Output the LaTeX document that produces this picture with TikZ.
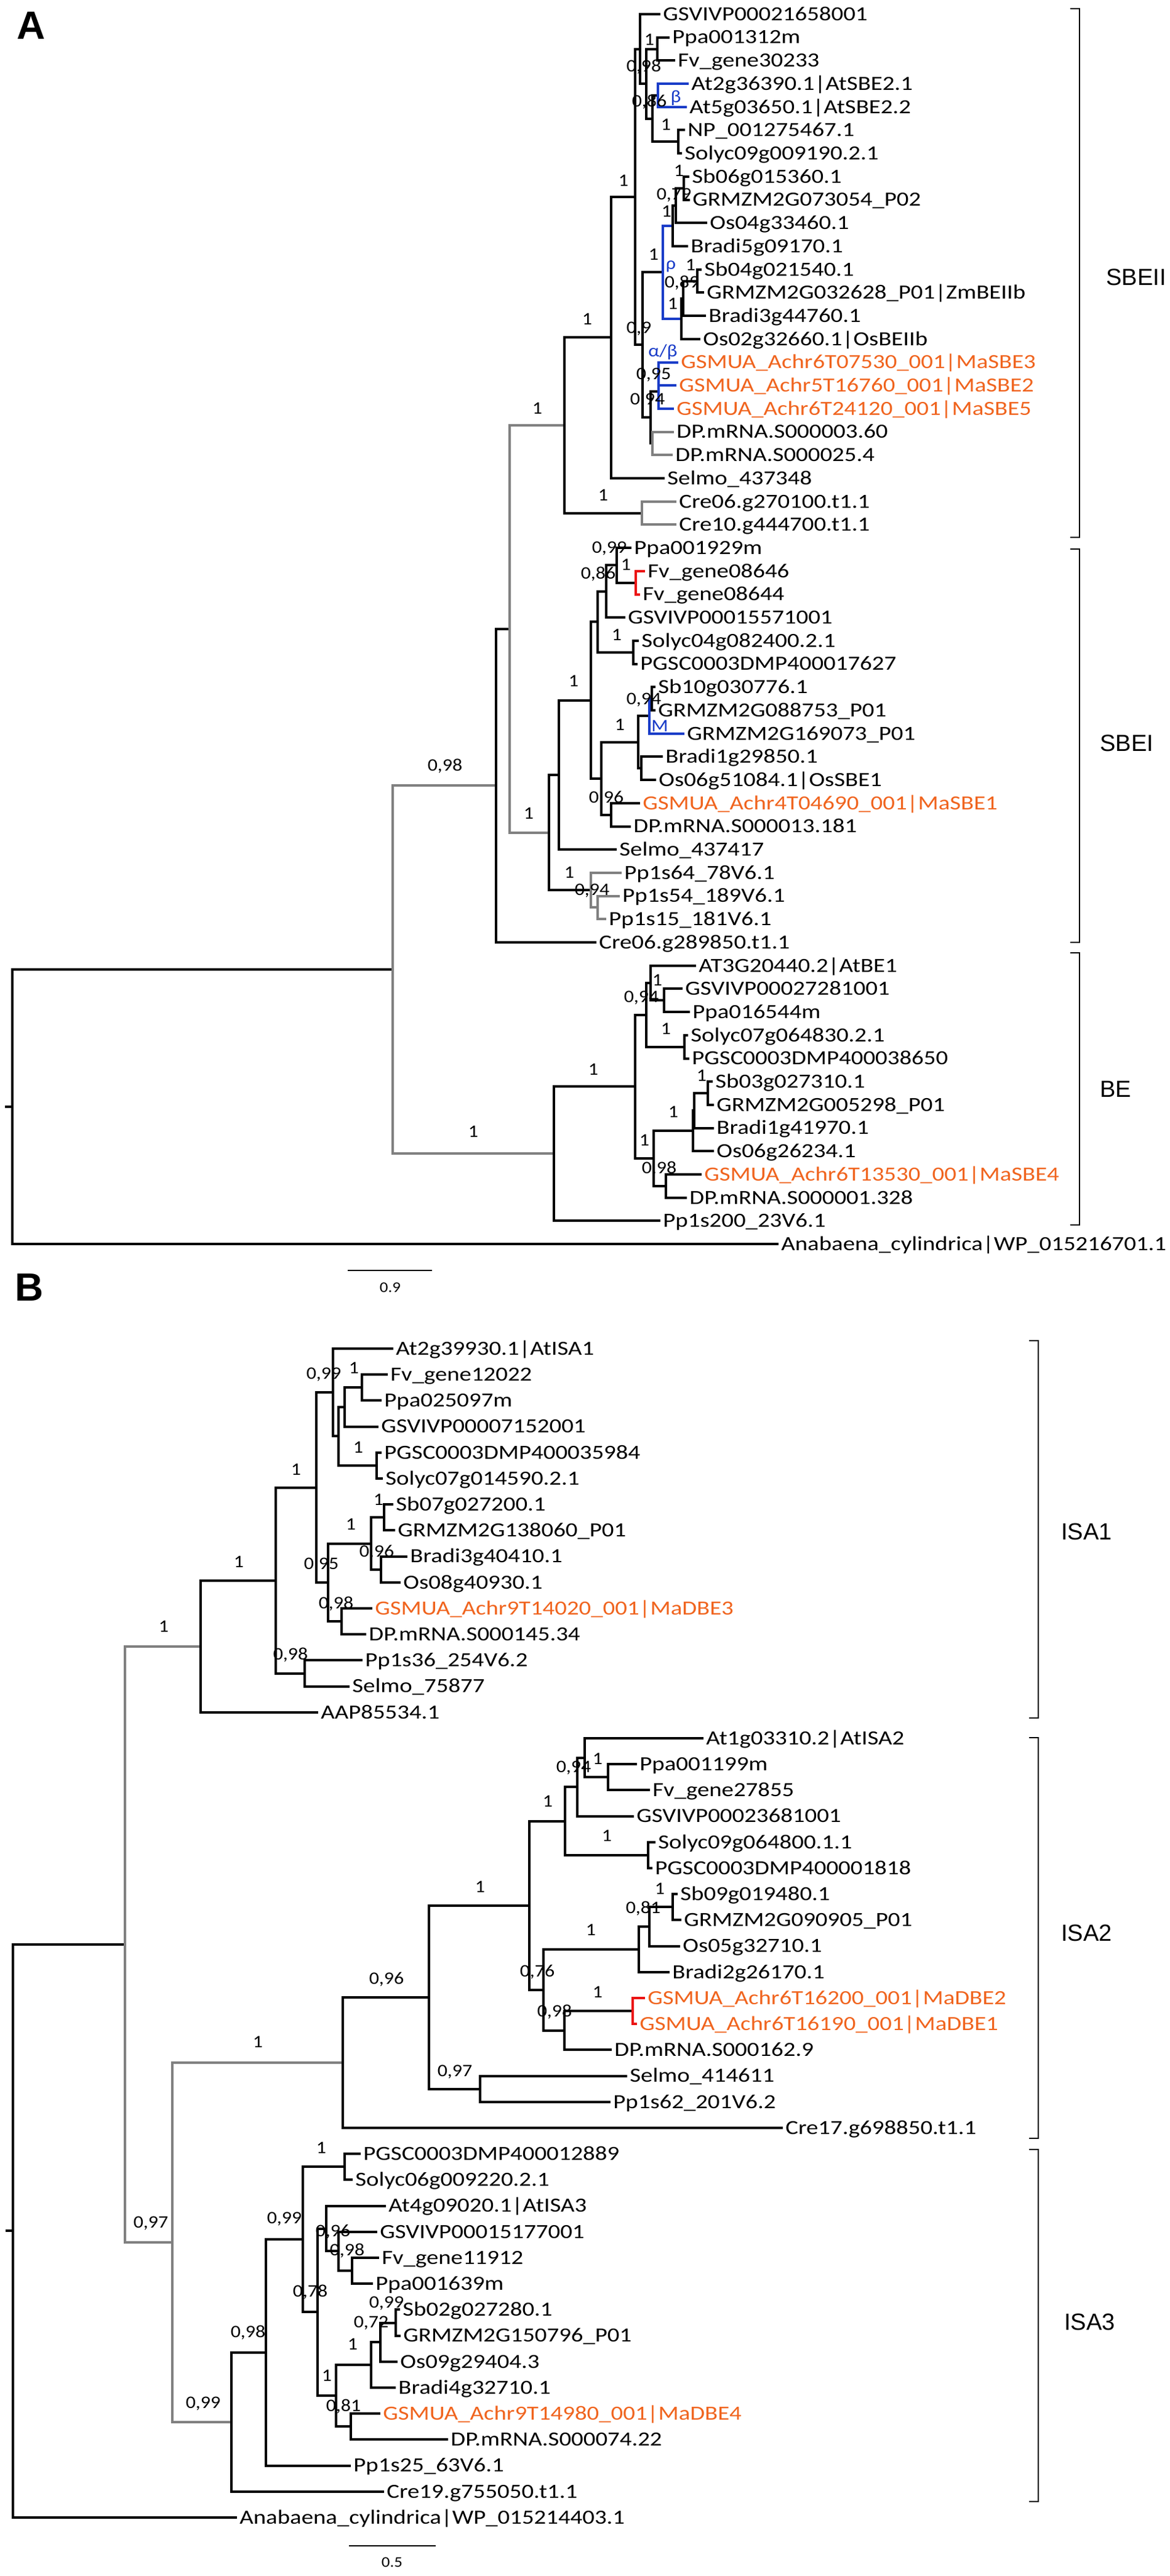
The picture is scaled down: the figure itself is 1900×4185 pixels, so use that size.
\documentclass[tikz,border=0pt]{standalone}
\usepackage{fontspec}
\newfontfamily\leaffont{Carlito}[FakeStretch=1.19]
\newfontfamily\supfont{Carlito}[FakeStretch=1.12]
\newfontfamily\cladefont{Liberation Sans}
\definecolor{musa}{RGB}{240,100,30}
\definecolor{cladeblue}{RGB}{25,60,200}
\definecolor{dupred}{RGB}{235,20,20}
\definecolor{branchgray}{RGB}{128,128,128}
\tikzset{
  br/.style={line width=2pt, line cap=rect, line join=miter, draw=black},
  gbr/.style={br, draw=branchgray},
  bbr/.style={br, draw=cladeblue},
  rbr/.style={br, draw=dupred},
  leaf/.style={anchor=west, inner sep=0pt, xshift=3pt, font=\leaffont\fontsize{16.3pt}{16.3pt}\selectfont, text height=10.3pt, text depth=0pt},
  mleaf/.style={leaf, text=musa},
  sup/.style={anchor=center, inner sep=0pt, font=\supfont\fontsize{14.25pt}{14.25pt}\selectfont, text height=9pt, text depth=0pt},
  bluelab/.style={sup, text=cladeblue},
  brk/.style={line width=1.3pt, line cap=rect},
  clade/.style={anchor=west, inner sep=0pt, font=\cladefont\fontsize{19pt}{19pt}\selectfont, text height=13.6pt, text depth=0pt},
  panel/.style={inner sep=0pt, font=\cladefont\bfseries\fontsize{32pt}{32pt}\selectfont},
  scaletxt/.style={inner sep=0pt, font=\supfont\fontsize{12pt}{12pt}\selectfont},
}
\newcommand\mkleaf[5][leaf]{\coordinate (#2) at (#3,#4); \node[#1] (l#2) at (#2) {#5};}
\newcommand\sv[4]{\node[sup] (#1) at (#2,#3) {#4};}
\begin{document}
\begin{tikzpicture}[x=0.5pt,y=-0.5pt]
\useasboundingbox (0,0) rectangle (1900,4185);

% ================= PANEL A =================
\begin{scope}[x=0.5pt,y=-18.85pt,yshift=-11.5pt]
\mkleaf{a0}{1071}{0}{GSVIVP00021658001}
\mkleaf{a1}{1086}{1}{Ppa001312m}
\mkleaf{a2}{1095}{2}{Fv\_gene30233}
\mkleaf{a3}{1117}{3}{At2g36390.1|AtSBE2.1}
\mkleaf{a4}{1114}{4}{At5g03650.1|AtSBE2.2}
\mkleaf{a5}{1111}{5}{NP\_001275467.1}
\mkleaf{a6}{1106}{6}{Solyc09g009190.2.1}
\mkleaf{a7}{1118}{7}{Sb06g015360.1}
\mkleaf{a8}{1119}{8}{GRMZM2G073054\_P02}
\mkleaf{a9}{1147}{9}{Os04g33460.1}
\mkleaf{a10}{1116}{10}{Bradi5g09170.1}
\mkleaf{a11}{1138}{11}{Sb04g021540.1}
\mkleaf{a12}{1142}{12}{GRMZM2G032628\_P01|ZmBEIIb}
\mkleaf{a13}{1145}{13}{Bradi3g44760.1}
\mkleaf{a14}{1136}{14}{Os02g32660.1|OsBEIIb}
\mkleaf[mleaf]{a15}{1100}{15}{GSMUA\_Achr6T07530\_001|MaSBE3}
\mkleaf[mleaf]{a16}{1097}{16}{GSMUA\_Achr5T16760\_001|MaSBE2}
\mkleaf[mleaf]{a17}{1093}{17}{GSMUA\_Achr6T24120\_001|MaSBE5}
\mkleaf{a18}{1093}{18}{DP.mRNA.S000003.60}
\mkleaf{a19}{1091}{19}{DP.mRNA.S000025.4}
\mkleaf{a20}{1078}{20}{Selmo\_437348}
\mkleaf{a21}{1097}{21}{Cre06.g270100.t1.1}
\mkleaf{a22}{1097}{22}{Cre10.g444700.t1.1}
\mkleaf{a23}{1024}{23}{Ppa001929m}
\mkleaf{a24}{1046}{24}{Fv\_gene08646}
\mkleaf{a25}{1038}{25}{Fv\_gene08644}
\mkleaf{a26}{1014}{26}{GSVIVP00015571001}
\mkleaf{a27}{1036}{27}{Solyc04g082400.2.1}
\mkleaf{a28}{1034}{28}{PGSC0003DMP400017627}
\mkleaf{a29}{1063}{29}{Sb10g030776.1}
\mkleaf{a30}{1063}{30}{GRMZM2G088753\_P01}
\mkleaf{a31}{1110}{31}{GRMZM2G169073\_P01}
\mkleaf{a32}{1075}{32}{Bradi1g29850.1}
\mkleaf{a33}{1064}{33}{Os06g51084.1|OsSBE1}
\mkleaf[mleaf]{a34}{1038}{34}{GSMUA\_Achr4T04690\_001|MaSBE1}
\mkleaf{a35}{1023}{35}{DP.mRNA.S000013.181}
\mkleaf{a36}{1000}{36}{Selmo\_437417}
\mkleaf{a37}{1008}{37}{Pp1s64\_78V6.1}
\mkleaf{a38}{1005}{38}{Pp1s54\_189V6.1}
\mkleaf{a39}{983}{39}{Pp1s15\_181V6.1}
\mkleaf{a40}{967}{40}{Cre06.g289850.t1.1}
\mkleaf{a41}{1129}{41}{AT3G20440.2|AtBE1}
\mkleaf{a42}{1107}{42}{GSVIVP00027281001}
\mkleaf{a43}{1119}{43}{Ppa016544m}
\mkleaf{a44}{1116}{44}{Solyc07g064830.2.1}
\mkleaf{a45}{1118}{45}{PGSC0003DMP400038650}
\mkleaf{a46}{1156}{46}{Sb03g027310.1}
\mkleaf{a47}{1158}{47}{GRMZM2G005298\_P01}
\mkleaf{a48}{1158}{48}{Bradi1g41970.1}
\mkleaf{a49}{1158}{49}{Os06g26234.1}
\mkleaf[mleaf]{a50}{1138}{50}{GSMUA\_Achr6T13530\_001|MaSBE4}
\mkleaf{a51}{1114}{51}{DP.mRNA.S000001.328}
\mkleaf{a52}{1071}{52}{Pp1s200\_23V6.1}
\mkleaf{a53}{1263}{53}{Anabaena\_cylindrica|WP\_015216701.1}
% internal nodes
\coordinate (pPF) at (1068,1.5);
\coordinate (pAt) at (1069,3.5);
\coordinate (pNS) at (1102,5.5);
\coordinate (n1060) at (1060,4.5);
\coordinate (n1050) at (1050,3);
\coordinate (nDic) at (1040,1.5);
\coordinate (pSb06) at (1111,7.5);
\coordinate (nX) at (1098,8.25);
\coordinate (nY) at (1093,9.125);
\coordinate (pSb04) at (1133,11.5);
\coordinate (nZ) at (1110,12.25);
\coordinate (nW) at (1107,13.125);
\coordinate (nMono) at (1077,11.125);
\coordinate (nMusaI) at (1070,15.5);
\coordinate (nMusaO) at (1070,16.25);
\coordinate (pDP) at (1060,18.5);
\coordinate (nM) at (1057,17.375);
\coordinate (n1044) at (1044,14.25);
\coordinate (nCrown) at (1032,7.875);
\coordinate (n991) at (993,13.9375);
\coordinate (pCre) at (1043,21.5);
\coordinate (nSBEII) at (917,17.71875);
\coordinate (pFv08) at (1033,24.5);
\coordinate (nP) at (1002,23.75);
\coordinate (nQ) at (985,24.875);
\coordinate (pSP) at (1029,27.5);
\coordinate (nR) at (971,26.1875);
\coordinate (pSG) at (1059,29.5);
\coordinate (nS) at (1055,30.25);
\coordinate (pBO) at (1042,32.5);
\coordinate (nT) at (1037,31.375);
\coordinate (pMD) at (993,34.5);
\coordinate (n977) at (977,32.9375);
\coordinate (n960) at (960,29.5625);
\coordinate (n908) at (908,32.78125);
\coordinate (pPp) at (971,38.5);
\coordinate (nPp) at (960,37.75);
\coordinate (nSBEI) at (892,35.265625);
\coordinate (n828) at (828,26.4921875);
\coordinate (nSBE) at (806,33.24609);
\coordinate (pGP) at (1079,42.5);
\coordinate (nAt) at (1057,41.75);
\coordinate (pSP2) at (1112,44.5);
\coordinate (nDicBE) at (1050,43.125);
\coordinate (pSbG) at (1150,46.5);
\coordinate (nMi) at (1128,47.25);
\coordinate (nMo) at (1126,48.125);
\coordinate (pMD2) at (1082,50.5);
\coordinate (n1062) at (1062,49.3125);
\coordinate (n1032) at (1032,46.21875);
\coordinate (nBE) at (900,49.109375);
\coordinate (nU) at (638,41.17773);
\coordinate (rootA) at (20,47.0889);
\end{scope}

% branches A
\draw[br] (rootA) |- (nU); \draw[br] (rootA) |- (a53);
\draw[br] (rootA) -- ++(-10,0);
\draw[gbr] (nU) |- (nSBE); \draw[gbr] (nU) |- (nBE);
\draw[br] (nSBE) |- (n828); \draw[br] (nSBE) |- (a40);
\draw[gbr] (n828) |- (nSBEII); \draw[gbr] (n828) |- (nSBEI);
\draw[br] (nSBEII) |- (n991); \draw[br] (nSBEII) |- (pCre);
\draw[gbr] (pCre) |- (a21); \draw[gbr] (pCre) |- (a22);
\draw[br] (n991) |- (nCrown); \draw[br] (n991) |- (a20);
\draw[br] (nCrown) |- (nDic); \draw[br] (nCrown) |- (n1044);
\draw[br] (nDic) |- (a0); \draw[br] (nDic) |- (n1050);
\draw[br] (n1050) |- (pPF); \draw[br] (n1050) |- (n1060);
\draw[br] (pPF) |- (a1); \draw[br] (pPF) |- (a2);
\draw[br] (n1060) |- (pAt); \draw[br] (n1060) |- (pNS);
\draw[bbr] (pAt) |- (a3); \draw[bbr] (pAt) |- (a4);
\draw[br] (pNS) |- (a5); \draw[br] (pNS) |- (a6);
\draw[br] (n1044) |- (nMono); \draw[br] (n1044) |- (nM);
\draw[bbr] (nMono) |- (nY); \draw[bbr] (nMono) |- (nW);
\draw[br] (nY) |- (nX); \draw[br] (nY) |- (a10);
\draw[br] (nX) |- (pSb06); \draw[br] (nX) |- (a9);
\draw[br] (pSb06) |- (a7); \draw[br] (pSb06) |- (a8);
\draw[br] (nW) |- (nZ); \draw[br] (nW) |- (a14);
\draw[br] (nZ) |- (pSb04); \draw[br] (nZ) |- (a13);
\draw[br] (pSb04) |- (a11); \draw[br] (pSb04) |- (a12);
\draw[br] (nM) |- (nMusaO); \draw[br] (nM) |- (pDP);
\draw[bbr] (nMusaO) |- (nMusaI); \draw[bbr] (nMusaO) |- (a17);
\draw[bbr] (nMusaI) |- (a15); \draw[bbr] (nMusaI) |- (a16);
\draw[gbr] (pDP) |- (a18); \draw[gbr] (pDP) |- (a19);
\draw[br] (nSBEI) |- (n908); \draw[br] (nSBEI) |- (nPp);
\draw[gbr] (nPp) |- (a37); \draw[gbr] (nPp) |- (pPp);
\draw[gbr] (pPp) |- (a38); \draw[gbr] (pPp) |- (a39);
\draw[br] (n908) |- (n960); \draw[br] (n908) |- (a36);
\draw[br] (n960) |- (nR); \draw[br] (n960) |- (n977);
\draw[br] (nR) |- (nQ); \draw[br] (nR) |- (pSP);
\draw[br] (nQ) |- (nP); \draw[br] (nQ) |- (a26);
\draw[br] (nP) |- (a23); \draw[br] (nP) |- (pFv08);
\draw[rbr] (pFv08) |- (a24); \draw[rbr] (pFv08) |- (a25);
\draw[br] (pSP) |- (a27); \draw[br] (pSP) |- (a28);
\draw[br] (n977) |- (nT); \draw[br] (n977) |- (pMD);
\draw[br] (nT) |- (nS); \draw[br] (nT) |- (pBO);
\draw[bbr] (nS) |- (pSG); \draw[bbr] (nS) |- (a31);
\draw[br] (pSG) |- (a29); \draw[br] (pSG) |- (a30);
\draw[br] (pBO) |- (a32); \draw[br] (pBO) |- (a33);
\draw[br] (pMD) |- (a34); \draw[br] (pMD) |- (a35);
\draw[br] (nBE) |- (n1032); \draw[br] (nBE) |- (a52);
\draw[br] (n1032) |- (nDicBE); \draw[br] (n1032) |- (n1062);
\draw[br] (nDicBE) |- (nAt); \draw[br] (nDicBE) |- (pSP2);
\draw[br] (nAt) |- (a41); \draw[br] (nAt) |- (pGP);
\draw[br] (pGP) |- (a42); \draw[br] (pGP) |- (a43);
\draw[br] (pSP2) |- (a44); \draw[br] (pSP2) |- (a45);
\draw[br] (n1062) |- (nMo); \draw[br] (n1062) |- (pMD2);
\draw[br] (nMo) |- (nMi); \draw[br] (nMo) |- (a49);
\draw[br] (nMi) |- (pSbG); \draw[br] (nMi) |- (a48);
\draw[br] (pSbG) |- (a46); \draw[br] (pSbG) |- (a47);
\draw[br] (pMD2) |- (a50); \draw[br] (pMD2) |- (a51);

% support values A
\sv{sA1}{1013}{293}{1}
\sv{sA2}{1046}{108}{0,98}
\sv{sA3}{1055}{65}{1}
\sv{sA4}{1055}{165}{0,86}
\sv{sA5}{1082}{203}{1}
\sv{sA6}{1103}{277}{1}
\sv{sA7}{1095}{315}{0,79}
\sv{sA8}{1083}{343}{1}
\sv{sA9}{1062}{413}{1}
\sv{sA10}{1122}{430}{1}
\sv{sA11}{1108}{458}{0,89}
\sv{sA12}{1093}{493}{1}
\sv{sA13}{1038}{532}{0,9}
\sv{sA14}{1062}{607}{0,95}
\sv{sA15}{1052}{648}{0,94}
\sv{sA16}{954}{518}{1}
\sv{sA17}{980}{804}{1}
\sv{sA18}{873}{663}{1}
\sv{sA19}{859}{1321}{1}
\sv{sA20}{723}{1243}{0,98}
\sv{sA21}{769}{1838}{1}
\sv{sA22}{990}{889}{0,99}
\sv{sA23}{1017}{917}{1}
\sv{sA24}{972}{931}{0,86}
\sv{sA25}{1002}{1031}{1}
\sv{sA26}{932}{1106}{1}
\sv{sA27}{1046}{1135}{0,94}
\sv{sA28}{1007}{1177}{1}
\sv{sA29}{985}{1295}{0,96}
\sv{sA30}{925}{1417}{1}
\sv{sA31}{962}{1445}{0,94}
\sv{sA32}{964}{1737}{1}
\sv{sA33}{1042}{1619}{0,94}
\sv{sA34}{1068}{1592}{1}
\sv{sA35}{1082}{1671}{1}
\sv{sA36}{1140}{1747}{1}
\sv{sA37}{1094}{1806}{1}
\sv{sA38}{1047}{1852}{1}
\sv{sA39}{1071}{1897}{0,98}
\node[bluelab] (gbeta) at (1098,158) {β};
\node[bluelab] (grho) at (1090,428) {ρ};
\node[bluelab] (galpha) at (1077,570) {α/β};
\node[bluelab] (gM) at (1072,1179) {M};

% brackets and clade labels A
\draw[brk] (1740,14) -- (1754,14) -- (1754,873) -- (1740,873);
\draw[brk] (1740,892) -- (1754,892) -- (1754,1531) -- (1740,1531);
\draw[brk] (1740,1548) -- (1754,1548) -- (1754,1990) -- (1740,1990);
\node[clade] (cSBEII) at (1797,450) {SBEII};
\node[clade] (cSBEI) at (1787,1207) {SBEI};
\node[clade] (cBE) at (1787,1769) {BE};

% scale bar A
\draw[line width=1.4pt] (565,2064) -- (702,2064);
\node[scaletxt] (scA) at (634,2092) {0.9};
\node[panel] (pA) at (51,41) {A};

% ================= PANEL B =================
\begin{scope}[x=0.5pt,y=-21.1pt,yshift=-1095.5pt]
\mkleaf{b0}{637}{0}{At2g39930.1|AtISA1}
\mkleaf{b1}{628}{1}{Fv\_gene12022}
\mkleaf{b2}{618}{2}{Ppa025097m}
\mkleaf{b3}{613}{3}{GSVIVP00007152001}
\mkleaf{b4}{618}{4}{PGSC0003DMP400035984}
\mkleaf{b5}{620}{5}{Solyc07g014590.2.1}
\mkleaf{b6}{637}{6}{Sb07g027200.1}
\mkleaf{b7}{640}{7}{GRMZM2G138060\_P01}
\mkleaf{b8}{660}{8}{Bradi3g40410.1}
\mkleaf{b9}{649}{9}{Os08g40930.1}
\mkleaf[mleaf]{b10}{603}{10}{GSMUA\_Achr9T14020\_001|MaDBE3}
\mkleaf{b11}{593}{11}{DP.mRNA.S000145.34}
\mkleaf{b12}{587}{12}{Pp1s36\_254V6.2}
\mkleaf{b13}{566}{13}{Selmo\_75877}
\mkleaf{b14}{515}{14}{AAP85534.1}
\mkleaf{b15}{1141}{15}{At1g03310.2|AtISA2}
\mkleaf{b16}{1033}{16}{Ppa001199m}
\mkleaf{b17}{1054}{17}{Fv\_gene27855}
\mkleaf{b18}{1028}{18}{GSVIVP00023681001}
\mkleaf{b19}{1063}{19}{Solyc09g064800.1.1}
\mkleaf{b20}{1058}{20}{PGSC0003DMP400001818}
\mkleaf{b21}{1099}{21}{Sb09g019480.1}
\mkleaf{b22}{1105}{22}{GRMZM2G090905\_P01}
\mkleaf{b23}{1103}{23}{Os05g32710.1}
\mkleaf{b24}{1086}{24}{Bradi2g26170.1}
\mkleaf[mleaf]{b25}{1046}{25}{GSMUA\_Achr6T16200\_001|MaDBE2}
\mkleaf[mleaf]{b26}{1033}{26}{GSMUA\_Achr6T16190\_001|MaDBE1}
\mkleaf{b27}{992}{27}{DP.mRNA.S000162.9}
\mkleaf{b28}{1017}{28}{Selmo\_414611}
\mkleaf{b29}{990}{29}{Pp1s62\_201V6.2}
\mkleaf{b30}{1270}{30}{Cre17.g698850.t1.1}
\mkleaf{b31}{584}{31}{PGSC0003DMP400012889}
\mkleaf{b32}{571}{32}{Solyc06g009220.2.1}
\mkleaf{b33}{625}{33}{At4g09020.1|AtISA3}
\mkleaf{b34}{611}{34}{GSVIVP00015177001}
\mkleaf{b35}{614}{35}{Fv\_gene11912}
\mkleaf{b36}{604}{36}{Ppa001639m}
\mkleaf{b37}{648}{37}{Sb02g027280.1}
\mkleaf{b38}{649}{38}{GRMZM2G150796\_P01}
\mkleaf{b39}{644}{39}{Os09g29404.3}
\mkleaf{b40}{641}{40}{Bradi4g32710.1}
\mkleaf[mleaf]{b41}{616}{41}{GSMUA\_Achr9T14980\_001|MaDBE4}
\mkleaf{b42}{726}{42}{DP.mRNA.S000074.22}
\mkleaf{b43}{568}{43}{Pp1s25\_63V6.1}
\mkleaf{b44}{622}{44}{Cre19.g755050.t1.1}
\mkleaf{b45}{383}{45}{Anabaena\_cylindrica|WP\_015214403.1}
% internal nodes
\coordinate (pFP) at (588,1.5);
\coordinate (nFPG) at (560,2.25);
\coordinate (pPS) at (612,4.5);
\coordinate (n549) at (550,3.375);
\coordinate (nDic1) at (541,1.6875);
\coordinate (pSG1) at (624,6.5);
\coordinate (pBO1) at (619,8.5);
\coordinate (nMono1) at (603,7.5);
\coordinate (pMD1) at (555,10.5);
\coordinate (nMM1) at (533,9);
\coordinate (nAng1) at (514,5.34375);
\coordinate (pPS1) at (495,12.5);
\coordinate (n446) at (448,8.921875);
\coordinate (nISA1) at (326,11.4609);
\coordinate (pPF2) at (988,16.5);
\coordinate (nAPF) at (950,15.75);
\coordinate (nAPFG) at (938,16.875);
\coordinate (pSP3) at (1053,19.5);
\coordinate (nDic2) at (918,18.1875);
\coordinate (pSG2) at (1093,21.5);
\coordinate (nSGO) at (1055,22.25);
\coordinate (nMono2) at (1038,23.125);
\coordinate (pMa) at (1028,25.5);
\coordinate (nMaDP) at (917,26.25);
\coordinate (n883) at (883,24.6875);
\coordinate (nAng2) at (860,21.4375);
\coordinate (pSP4) at (780,28.5);
\coordinate (n697) at (697,24.96875);
\coordinate (nISA2) at (557,27.484375);
\coordinate (pPS5) at (560,31.5);
\coordinate (pFP3) at (572,35.5);
\coordinate (nGFP) at (550,34.75);
\coordinate (nDic3) at (530,33.875);
\coordinate (pSG3) at (643,37.5);
\coordinate (nSGO3) at (618,38.25);
\coordinate (nMono3) at (603,39.125);
\coordinate (pMD3) at (570,41.5);
\coordinate (nMM3) at (546,40.3125);
\coordinate (n516) at (516,37.09375);
\coordinate (n492) at (492,34.296875);
\coordinate (n432) at (432,38.6484);
\coordinate (nISA3) at (376,41.3242);
\coordinate (n280) at (280,34.404);
\coordinate (n203) at (203,22.9325);
\coordinate (rootB) at (21,33.966);
\end{scope}

% branches B
\draw[br] (rootB) |- (n203); \draw[br] (rootB) |- (b45);
\draw[br] (rootB) -- ++(-10,0);
\draw[gbr] (n203) |- (nISA1); \draw[gbr] (n203) |- (n280);
\draw[gbr] (n280) |- (nISA2); \draw[gbr] (n280) |- (nISA3);
\draw[br] (nISA1) |- (n446); \draw[br] (nISA1) |- (b14);
\draw[br] (n446) |- (nAng1); \draw[br] (n446) |- (pPS1);
\draw[br] (pPS1) |- (b12); \draw[br] (pPS1) |- (b13);
\draw[br] (nAng1) |- (nDic1); \draw[br] (nAng1) |- (nMM1);
\draw[br] (nDic1) |- (b0); \draw[br] (nDic1) |- (n549);
\draw[br] (n549) |- (nFPG); \draw[br] (n549) |- (pPS);
\draw[br] (nFPG) |- (pFP); \draw[br] (nFPG) |- (b3);
\draw[br] (pFP) |- (b1); \draw[br] (pFP) |- (b2);
\draw[br] (pPS) |- (b4); \draw[br] (pPS) |- (b5);
\draw[br] (nMM1) |- (nMono1); \draw[br] (nMM1) |- (pMD1);
\draw[br] (nMono1) |- (pSG1); \draw[br] (nMono1) |- (pBO1);
\draw[br] (pSG1) |- (b6); \draw[br] (pSG1) |- (b7);
\draw[br] (pBO1) |- (b8); \draw[br] (pBO1) |- (b9);
\draw[br] (pMD1) |- (b10); \draw[br] (pMD1) |- (b11);
\draw[br] (nISA2) |- (n697); \draw[br] (nISA2) |- (b30);
\draw[br] (n697) |- (nAng2); \draw[br] (n697) |- (pSP4);
\draw[br] (pSP4) |- (b28); \draw[br] (pSP4) |- (b29);
\draw[br] (nAng2) |- (nDic2); \draw[br] (nAng2) |- (n883);
\draw[br] (nDic2) |- (nAPFG); \draw[br] (nDic2) |- (pSP3);
\draw[br] (nAPFG) |- (nAPF); \draw[br] (nAPFG) |- (b18);
\draw[br] (nAPF) |- (b15); \draw[br] (nAPF) |- (pPF2);
\draw[br] (pPF2) |- (b16); \draw[br] (pPF2) |- (b17);
\draw[br] (pSP3) |- (b19); \draw[br] (pSP3) |- (b20);
\draw[br] (n883) |- (nMono2); \draw[br] (n883) |- (nMaDP);
\draw[br] (nMono2) |- (nSGO); \draw[br] (nMono2) |- (b24);
\draw[br] (nSGO) |- (pSG2); \draw[br] (nSGO) |- (b23);
\draw[br] (pSG2) |- (b21); \draw[br] (pSG2) |- (b22);
\draw[br] (nMaDP) |- (pMa); \draw[br] (nMaDP) |- (b27);
\draw[rbr] (pMa) |- (b25); \draw[rbr] (pMa) |- (b26);
\draw[br] (nISA3) |- (n432); \draw[br] (nISA3) |- (b44);
\draw[br] (n432) |- (n492); \draw[br] (n432) |- (b43);
\draw[br] (n492) |- (pPS5); \draw[br] (n492) |- (n516);
\draw[br] (pPS5) |- (b31); \draw[br] (pPS5) |- (b32);
\draw[br] (n516) |- (nDic3); \draw[br] (n516) |- (nMM3);
\draw[br] (nDic3) |- (b33); \draw[br] (nDic3) |- (nGFP);
\draw[br] (nGFP) |- (b34); \draw[br] (nGFP) |- (pFP3);
\draw[br] (pFP3) |- (b35); \draw[br] (pFP3) |- (b36);
\draw[br] (nMM3) |- (nMono3); \draw[br] (nMM3) |- (pMD3);
\draw[br] (nMono3) |- (nSGO3); \draw[br] (nMono3) |- (b40);
\draw[br] (nSGO3) |- (pSG3); \draw[br] (nSGO3) |- (b39);
\draw[br] (pSG3) |- (b37); \draw[br] (pSG3) |- (b38);
\draw[br] (pMD3) |- (b41); \draw[br] (pMD3) |- (b42);

% support values B
\sv{sB1}{266}{2642}{1}
\sv{sB2}{388}{2537}{1}
\sv{sB3}{481}{2387}{1}
\sv{sB4}{472}{2687}{0,98}
\sv{sB5}{526}{2231}{0,99}
\sv{sB6}{575}{2222}{1}
\sv{sB7}{582}{2351}{1}
\sv{sB8}{615}{2436}{1}
\sv{sB9}{570}{2476}{1}
\sv{sB10}{522}{2540}{0,95}
\sv{sB11}{612}{2520}{0,96}
\sv{sB12}{546}{2604}{0,98}
\sv{sB13}{419}{3317}{1}
\sv{sB14}{628}{3214}{0,96}
\sv{sB15}{780}{3065}{1}
\sv{sB16}{739}{3364}{0,97}
\sv{sB17}{890}{2926}{1}
\sv{sB18}{932}{2870}{0,94}
\sv{sB19}{971}{2857}{1}
\sv{sB20}{986}{2982}{1}
\sv{sB21}{873}{3202}{0,76}
\sv{sB22}{960}{3135}{1}
\sv{sB23}{1072}{3068}{1}
\sv{sB24}{1045}{3099}{0,81}
\sv{sB25}{971}{3236}{1}
\sv{sB26}{901}{3267}{0,98}
\sv{sB27}{245}{3610}{0,97}
\sv{sB28}{330}{3903}{0,99}
\sv{sB29}{403}{3788}{0,98}
\sv{sB30}{462}{3603}{0,99}
\sv{sB31}{522}{3489}{1}
\sv{sB32}{504}{3722}{0,78}
\sv{sB33}{541}{3624}{0,96}
\sv{sB34}{564}{3655}{0,98}
\sv{sB35}{628}{3740}{0,99}
\sv{sB36}{603}{3772}{0,72}
\sv{sB37}{573}{3808}{1}
\sv{sB38}{531}{3859}{1}
\sv{sB39}{558}{3908}{0,81}

% brackets and clade labels B
\draw[brk] (1673,2178) -- (1687,2178) -- (1687,2791) -- (1673,2791);
\draw[brk] (1673,2823) -- (1687,2823) -- (1687,3474) -- (1673,3474);
\draw[brk] (1673,3492) -- (1687,3492) -- (1687,4064) -- (1673,4064);
\node[clade] (cISA1) at (1724,2488) {ISA1};
\node[clade] (cISA2) at (1724,3140) {ISA2};
\node[clade] (cISA3) at (1729,3772) {ISA3};

% scale bar B
\draw[line width=1.4pt] (567,4136) -- (708,4136);
\node[scaletxt] (scB) at (637,4163) {0.5};
\node[panel] (pB) at (48,2091) {B};
\end{tikzpicture}
\end{document}
